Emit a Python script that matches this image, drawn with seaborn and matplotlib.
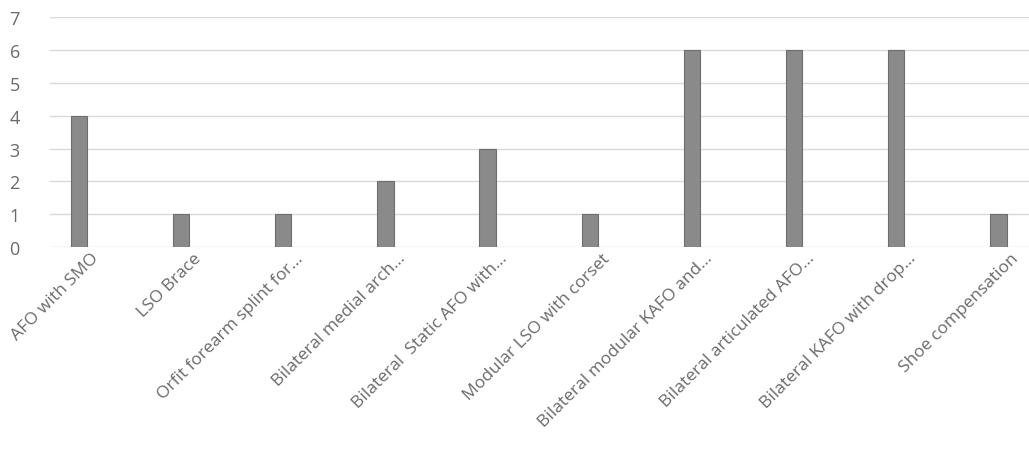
import matplotlib
matplotlib.use('Agg')
import matplotlib.pyplot as plt
import matplotlib.transforms as mtransforms
import seaborn as sns
import pandas as pd

# categories as printed on the axis (truncated like the original)
devices = ['AFO with SMO', 'LSO Brace', 'Orfit forearm splint for...',
           'Bilateral medial arch...', 'Bilateral  Static AFO with...',
           'Modular LSO with corset', 'Bilateral modular KAFO and...',
           'Bilateral articulated AFO...', 'Bilateral KAFO with drop...',
           'Shoe compensation']
counts = [4, 1, 1, 2, 3, 1, 6, 6, 6, 1]
y_ticks = [0, 1, 2, 3, 4, 5, 6, 7]

df = pd.DataFrame({'device': devices, 'count': counts})

sns.set_style('white')
plt.rcParams['font.family'] = ['Open Sans', 'DejaVu Sans']

fig = plt.figure(figsize=(10.29, 4.52), dpi=100)
ax = fig.add_axes([0.049, 0.451, 0.951, 0.509])

sns.barplot(data=df, x='device', y='count', color='#8a8a8a', width=0.16,
            saturation=1, edgecolor='#6e6e6e', linewidth=0.8, ax=ax, zorder=3)

ax.set_ylim(0, 7)
ax.set_xlim(-0.28, 9.3)
ax.set_yticks(y_ticks)
ax.yaxis.grid(True, color='#d9d9d9', linewidth=1)
ax.set_axisbelow(True)
for s in ax.spines.values():
    s.set_visible(False)
ax.set_xlabel('')
ax.set_ylabel('')
ax.tick_params(axis='y', length=0, labelsize=13, labelcolor='#6a6a6a', pad=22)
ax.tick_params(axis='x', length=0, labelsize=12.5, labelcolor='#6a6a6a', pad=2)
shift = mtransforms.ScaledTranslation(0.12, 0, fig.dpi_scale_trans)
for lab in ax.get_xticklabels():
    lab.set_rotation(45)
    lab.set_ha('right')
    lab.set_rotation_mode('anchor')
    lab.set_transform(lab.get_transform() + shift)

fig.savefig('out.png', dpi=100)
